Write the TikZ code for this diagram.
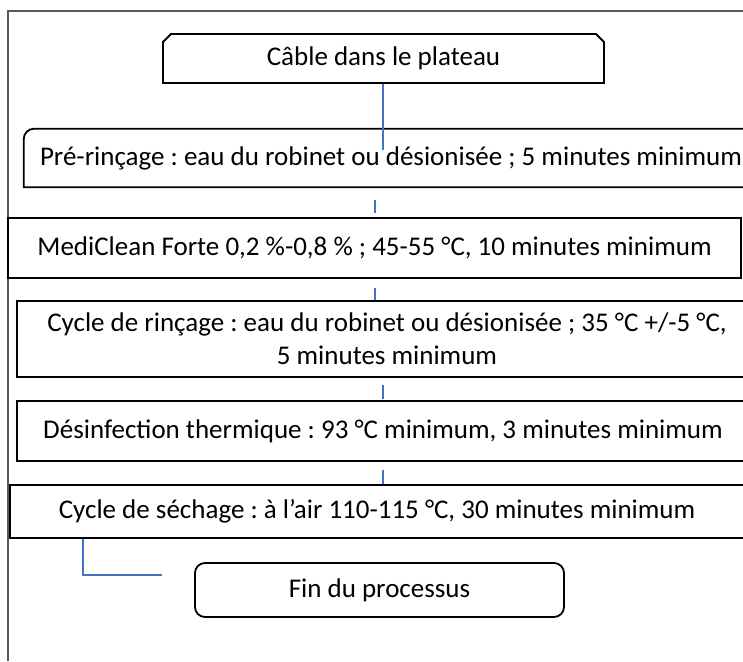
\documentclass[tikz,border=0pt]{standalone}
\usepackage{fontspec}
\setmainfont{Carlito}
\usetikzlibrary{shapes.misc,calc}
\definecolor{conblue}{HTML}{4472C4}
\definecolor{framegray}{HTML}{595959}
\frenchspacing
\begin{document}
\begin{tikzpicture}[x=1pt,y=1pt,
  boxtext/.style={font=\fontsize{27}{33}\selectfont, inner sep=0pt, align=center},
  stepbox/.style={boxtext, draw=black, line width=1.8pt, rectangle},
  outline/.style={draw=black, line width=1.8pt},
  conn/.style={draw=conblue, line width=1.5pt},
  framel/.style={draw=framegray, line width=1.5pt}]
\useasboundingbox (0,0) rectangle (743,661);
\clip (0,0) rectangle (743,661);
% frame
\coordinate (fbl) at (8,0);
\coordinate (ftl) at (8,650);
\coordinate (ftr) at (750,650);
\draw[framel] (fbl) -- (ftl) -- (ftr);
% boxes
\node[boxtext, chamfered rectangle, chamfered rectangle corners={north west,north east},
      chamfered rectangle xsep=4pt, chamfered rectangle ysep=4pt, draw=black, line width=1.8pt,
      minimum width=441pt, minimum height=49pt] (b1) at (383.5,602.5) {Câble dans le plateau};
\node[boxtext, minimum width=734pt, minimum height=58pt] (b2) at (391,503)
      {Pré-rinçage : eau du robinet ou désionisée ; 5 minutes minimum};
\draw[outline] (b2.south east) -- (b2.south west) -- ([yshift=-10pt]b2.north west)
      arc[start angle=180, end angle=90, radius=10pt] -- (b2.north east) -- cycle;
\node[stepbox, minimum width=733pt, minimum height=60pt] (b3) at (374.5,413)
      {MediClean Forte 0,2 \%-0,8 \% ; 45-55 °C, 10 minutes minimum};
\node[stepbox, minimum width=740pt, minimum height=76pt] (b4) at (387,322)
      {Cycle de rinçage : eau du robinet ou désionisée ; 35 °C +/-5 °C,\\5 minutes minimum};
\node[stepbox, minimum width=732pt, minimum height=60pt] (b5) at (383,230)
      {Désinfection thermique : 93 °C minimum, 3 minutes minimum};
\node[stepbox, line width=2pt, minimum width=734pt, minimum height=53pt] (b6) at (377,149.5)
      {Cycle de séchage : à l’air 110-115 °C, 30 minutes minimum};
\node[stepbox, rounded corners=10pt, minimum width=369pt, minimum height=54pt] (b7) at (379.5,71)
      {Fin du processus};
% connectors
\coordinate (c1e) at (383,511);
\draw[conn] (b1.south -| c1e) -- (c1e);
\coordinate (s2a) at (375,461); \coordinate (s2b) at (375,448);
\draw[conn] (s2a) -- (s2b);
\coordinate (s3a) at (375,373);
\draw[conn] (s3a) -- (b4.north -| s3a);
\coordinate (s4a) at (383,276); \coordinate (s4b) at (383,262);
\draw[conn] (s4a) -- (s4b);
\coordinate (s5a) at (383,191);
\draw[conn] (s5a) -- (b6.north -| s5a);
\coordinate (el) at (83,86);
\coordinate (ee) at (162,86);
\draw[conn] (b6.south -| el) -- (el) -- (ee);
\end{tikzpicture}
\end{document}
